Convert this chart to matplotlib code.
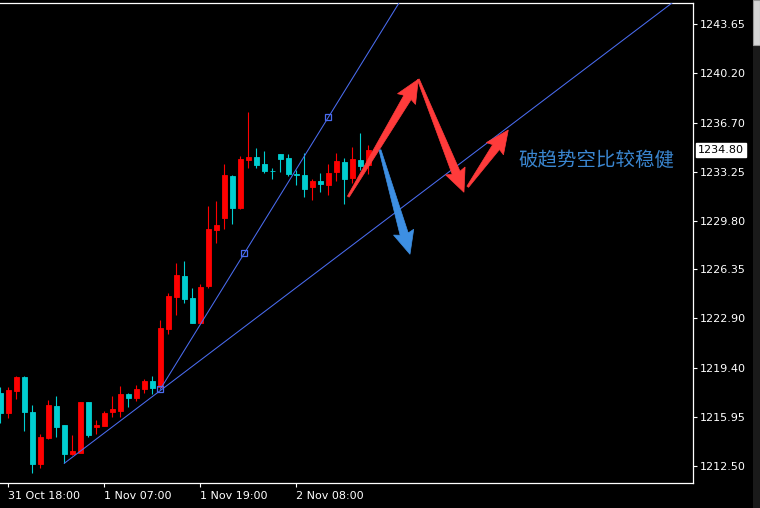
import matplotlib
matplotlib.use("Agg")
import matplotlib.pyplot as plt
import numpy as np
from matplotlib.patches import Polygon, Rectangle

# hourly gold candles (index 0 = 31 Oct 17:00)
opens = [1217.63, 1216.22, 1217.81, 1218.75, 1216.33, 1212.64, 1214.45, 1216.73, 1215.39, 1213.35,
         1213.44, 1217.01, 1215.25, 1215.34, 1216.33, 1216.40, 1217.58, 1217.32, 1217.91, 1218.49,
         1218.09, 1222.16, 1224.43, 1225.89, 1224.32, 1222.60, 1225.21, 1229.13, 1229.96, 1232.94,
         1230.70, 1234.07, 1234.30, 1233.78, 1233.31, 1234.49, 1234.19, 1233.08, 1233.01, 1232.18,
         1232.59, 1232.30, 1233.24, 1233.95, 1232.82, 1234.07, 1233.71]
highs = [1218.05, 1218.05, 1218.84, 1218.84, 1216.80, 1214.76, 1217.15, 1217.43, 1215.39, 1214.69,
         1217.01, 1217.01, 1215.74, 1216.38, 1217.43, 1218.14, 1217.67, 1218.21, 1218.61, 1218.84,
         1222.79, 1224.72, 1226.79, 1226.95, 1225.03, 1225.33, 1230.82, 1231.18, 1233.76, 1233.01,
         1234.35, 1237.47, 1234.93, 1234.70, 1233.48, 1234.49, 1234.49, 1233.36, 1234.54, 1232.71,
         1233.17, 1233.78, 1234.58, 1234.19, 1235.00, 1235.95, 1235.10]
lows = [1215.51, 1215.86, 1217.20, 1214.97, 1212.03, 1212.38, 1214.40, 1214.57, 1212.69, 1213.28,
        1213.44, 1214.57, 1214.76, 1215.34, 1215.98, 1215.98, 1216.68, 1217.10, 1217.63, 1217.60,
        1218.05, 1221.80, 1223.14, 1223.97, 1222.56, 1222.60, 1225.07, 1228.20, 1229.18, 1229.53,
        1230.59, 1233.52, 1233.48, 1233.17, 1232.73, 1233.24, 1232.94, 1232.30, 1231.48, 1231.25,
        1231.83, 1231.60, 1232.59, 1230.97, 1232.42, 1233.36, 1233.08]
closes = [1216.22, 1217.86, 1218.75, 1216.33, 1212.64, 1214.57, 1216.80, 1215.27, 1213.35, 1213.56,
          1217.01, 1214.69, 1215.39, 1216.22, 1216.52, 1217.58, 1217.32, 1217.93, 1218.49, 1217.98,
          1222.25, 1224.48, 1225.96, 1224.27, 1222.60, 1225.14, 1229.20, 1229.49, 1233.01, 1230.70,
          1234.14, 1234.30, 1233.71, 1233.31, 1233.29, 1234.14, 1233.06, 1232.99, 1232.02, 1232.59,
          1232.35, 1233.13, 1234.00, 1232.73, 1234.14, 1233.66, 1234.80]

time_ticks = [1, 13, 25, 37]
time_labels = ["31 Oct 18:00", "1 Nov 07:00", "1 Nov 19:00", "2 Nov 08:00"]
price_ticks = [1243.65, 1240.20, 1236.70, 1233.25, 1229.80, 1226.35, 1222.90, 1219.40, 1215.95, 1212.50]
last_price = 1234.80

# trend lines: (x, price) anchors
lower_line = [(8, 1212.69), (74.55, 1241.11)]
steep_line = [(20, 1217.91), (41, 1237.07)]

# hand-drawn arrows: (tail, tip)
red_arrows = [((43.5, 1231.48), (52.25, 1239.75)),
              ((52.25, 1239.75), (57.96, 1231.79)),
              ((58.43, 1232.18), (63.5, 1236.18))]
blue_arrows = [((47.46, 1234.77), (51.21, 1227.42))]

UP = "#ff0000"
DOWN = "#00ced1"
LINE = "#4a6cf0"

fig = plt.figure(figsize=(7.6, 5.08), dpi=100, facecolor="black")
ax = fig.add_axes([0, 25 / 508, 693 / 760, 480 / 508], facecolor="black")
ax.set_xlim(-0.04, 86.59)
ax.set_ylim(1211.30, 1245.13)

idx = np.arange(len(opens))
o = np.array(opens); c = np.array(closes)
cols = [UP if cc >= oo else DOWN for oo, cc in zip(o, c)]
ax.vlines(idx, lows, highs, colors=cols, lw=0.8, zorder=2)
ax.bar(idx, np.abs(c - o), bottom=np.minimum(o, c), width=0.58, color=cols,
       edgecolor=cols, linewidth=0.6, zorder=3)

def ray(p0, p1, xend=95):
    k = (p1[1] - p0[1]) / (p1[0] - p0[0])
    ax.plot([p0[0], xend], [p0[1], p0[1] + k * (xend - p0[0])], color=LINE, lw=0.75, zorder=4)

ray(*lower_line)
ray(*steep_line)
mid = ((steep_line[0][0] + steep_line[1][0]) / 2, (steep_line[0][1] + steep_line[1][1]) / 2)
sq = [steep_line[0], mid, steep_line[1]]
ax.plot([p[0] for p in sq], [p[1] for p in sq], ls="none", marker="s", ms=4.2,
        mfc="none", mec=LINE, mew=0.9, zorder=5)

def arrow(tail, tip, color):
    t = ax.transData
    a = t.transform(tail); b = t.transform(tip)
    d = b - a
    L = np.hypot(*d)
    u = d / L
    n = np.array([-u[1], u[0]])
    hl, hw, sw0, sw1 = 21, 10.5, 1.0, 4.2
    base = b - u * hl
    pts = [a + n * sw0, base + n * sw1, base + n * hw - u * 2, b,
           base - n * hw - u * 2, base - n * sw1, a - n * sw0]
    pts = t.inverted().transform(np.array(pts))
    ax.add_patch(Polygon(pts, closed=True, facecolor=color, edgecolor=color, lw=0.5, zorder=6))

fig.canvas.draw()
for tl, tp in red_arrows:
    arrow(tl, tp, "#ff3b3b")
for tl, tp in blue_arrows:
    arrow(tl, tp, "#3d8fe3")

ax.text(518 / 8, 1234.0, "破趋势空比较稳健", color="#3a86d0", fontsize=14,
        family=["Noto Sans CJK SC", "DejaVu Sans"], va="center", ha="left", zorder=7)

# axes styling
for s in ["top", "right", "bottom"]:
    ax.spines[s].set_color("white")
    ax.spines[s].set_linewidth(0.9)
ax.spines["left"].set_visible(False)
ax.yaxis.tick_right()
ax.set_yticks(price_ticks)
ax.set_yticklabels([f"{p:.2f}" for p in price_ticks])
ax.set_xticks(time_ticks)
ax.set_xticklabels(time_labels, ha="left")
ax.tick_params(axis="both", colors="white", labelcolor="white", labelsize=8,
               length=3, width=0.8, pad=2)
ax.tick_params(axis="x", pad=3)
for lab in ax.get_xticklabels():
    lab.set_x(lab.get_position()[0])

ax.annotate(f"{last_price:.2f}", xy=(1.0, last_price), xycoords=("axes fraction", "data"),
            xytext=(5, 0), textcoords="offset pixels", va="center", ha="left", fontsize=8,
            color="black", bbox=dict(boxstyle="square,pad=0.18", fc="white", ec="white"),
            annotation_clip=False, zorder=8)

# window scrollbar edge
fig.patches.append(Rectangle((753 / 760, 0), 7 / 760, 1, transform=fig.transFigure,
                             facecolor="#1a1a1a", edgecolor="none"))
fig.patches.append(Rectangle((753 / 760, 1 - 45 / 508), 7 / 760, 45 / 508, transform=fig.transFigure,
                             facecolor="#d6d6d6", edgecolor="#9a9a9a", lw=0.8))

fig.savefig("out.png", dpi=100, facecolor="black")
